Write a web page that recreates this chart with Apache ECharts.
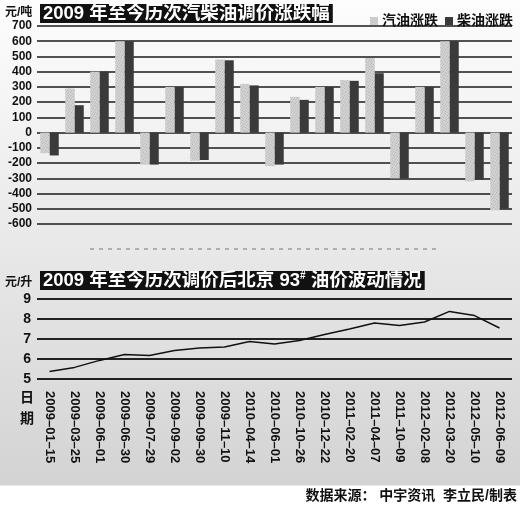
<!DOCTYPE html>
<html lang="zh">
<head>
<meta charset="UTF-8">
<title>汽柴油调价</title>
<style>
    body { margin: 0; background: #fff; }
    #main {
        width: 520px;
        height: 506px;
        background: linear-gradient(to bottom, #fdfdfd 0px, #e9e9e9 240px, #d3d3d3 485px, #fff 486px, #fff 506px);
    }
</style>
</head>
<body>
<div id="main"></div>
<script src="https://cdn.jsdelivr.net/npm/echarts@6/dist/echarts.min.js"></script>
<script>
    var dates = ['2009-01-15', '2009-03-25', '2009-06-01', '2009-06-30', '2009-07-29', '2009-09-02',
        '2009-09-30', '2009-11-10', '2010-04-14', '2010-06-01', '2010-10-26', '2010-12-22',
        '2011-02-20', '2011-04-07', '2011-10-09', '2012-02-08', '2012-03-20', '2012-05-10', '2012-06-09'];
    // 元/吨
    var gasChange = [-135, 290, 400, 600, -210, 300, -185, 480, 320, -220, 235, 300, 345, 490, -300, 300, 600, -320, -510];
    var dieselChange = [-150, 180, 400, 600, -210, 300, -180, 475, 310, -210, 215, 300, 340, 390, -300, 300, 600, -310, -500];
    // 北京93#, 元/升
    var price93 = [5.38, 5.58, 5.93, 6.22, 6.17, 6.42, 6.55, 6.6, 6.88, 6.75, 6.92, 7.22, 7.5, 7.8, 7.68, 7.85, 8.38, 8.17, 7.55];

    var FONT = "'Liberation Sans', 'Noto Sans CJK SC', sans-serif";
    var myChart = echarts.init(document.getElementById('main'));

    var option = {
        animation: false,
        textStyle: { fontFamily: FONT },
        title: [{
            text: '2009 年至今历次汽柴油调价涨跌幅',
            left: 40,
            top: 4,
            padding: [0, 3],
            backgroundColor: '#111',
            textStyle: { color: '#fff', fontSize: 18.5, fontWeight: 'bold', lineHeight: 19, fontFamily: FONT }
        }, {
            text: '2009 年至今历次调价后北京 93{sup|#} 油价波动情况',
            left: 40,
            top: 271,
            padding: [0, 3],
            backgroundColor: '#111',
            textStyle: {
                color: '#fff', fontSize: 18.5, fontWeight: 'bold', lineHeight: 19, fontFamily: FONT,
                rich: {
                    sup: { color: '#fff', fontSize: 10, fontWeight: 'bold', verticalAlign: 'top', lineHeight: 19, fontFamily: FONT }
                }
            }
        }],
        legend: {
            data: ['汽油涨跌', '柴油涨跌'],
            right: 2,
            top: 9,
            icon: 'rect',
            itemWidth: 8,
            itemHeight: 8,
            itemGap: 7,
            textStyle: { fontSize: 14, fontWeight: 'bold', color: '#111', padding: [0, 0, 0, -1] }
        },
        grid: [
            { left: 37, right: 8, top: 26, height: 198 },
            { left: 37, right: 8, top: 299, height: 80 }
        ],
        xAxis: [{
            type: 'category',
            gridIndex: 0,
            data: dates,
            axisLine: { show: false },
            axisTick: { show: false },
            axisLabel: { show: false }
        }, {
            type: 'category',
            gridIndex: 1,
            data: dates,
            axisLine: { show: false },
            axisTick: { show: false },
            axisLabel: {
                interval: 0,
                rotate: -90,
                margin: 12,
                fontSize: 13,
                fontWeight: 'bold',
                color: '#111',
                formatter: function (v) { return v.replace(/-/g, '–'); }
            }
        }],
        yAxis: [{
            type: 'value',
            gridIndex: 0,
            min: -600,
            max: 700,
            interval: 100,
            axisLabel: { margin: 5, fontSize: 12, fontWeight: 'bold', color: '#111' },
            splitLine: { lineStyle: { color: '#1a1a1a', width: 1.5 } }
        }, {
            type: 'value',
            gridIndex: 1,
            min: 5,
            max: 9,
            interval: 1,
            axisLabel: { margin: 6, fontSize: 14, fontWeight: 'bold', color: '#111' },
            splitLine: { lineStyle: { color: '#222', width: 2 } }
        }],
        series: [{
            name: '汽油涨跌',
            type: 'bar',
            xAxisIndex: 0,
            yAxisIndex: 0,
            data: gasChange,
            barWidth: 9.5,
            barGap: '0%',
            itemStyle: {
                color: '#d6d6d6',
                decal: {
                    symbol: 'rect',
                    symbolSize: 1,
                    color: 'rgba(140,140,140,0.55)',
                    dashArrayX: [1, 1],
                    dashArrayY: [1, 1],
                    rotation: 0.6
                }
            }
        }, {
            name: '柴油涨跌',
            type: 'bar',
            xAxisIndex: 0,
            yAxisIndex: 0,
            data: dieselChange,
            barWidth: 9,
            itemStyle: { color: '#3a3a3a' }
        }, {
            name: '93#',
            type: 'line',
            xAxisIndex: 1,
            yAxisIndex: 1,
            data: price93,
            symbol: 'none',
            lineStyle: { color: '#111', width: 1.5 }
        }],
        graphic: [{
            type: 'text',
            left: 5,
            top: 7,
            style: { text: '元/吨', font: 'bold 12px ' + FONT, fill: '#111' }
        }, {
            type: 'text',
            left: 5,
            top: 277,
            style: { text: '元/升', font: 'bold 12px ' + FONT, fill: '#111' }
        }, {
            type: 'text',
            left: 20,
            top: 388,
            style: { text: '日\n期', font: 'bold 14px ' + FONT, fill: '#111', lineHeight: 21 }
        }, {
            type: 'line',
            shape: { x1: 90, y1: 249, x2: 438, y2: 249 },
            style: { stroke: '#777', lineWidth: 1, lineDash: [4, 5] }
        }, {
            type: 'text',
            right: 3,
            top: 489,
            style: { text: '数据来源： 中宇资讯  李立民/制表', font: 'bold 14px ' + FONT, fill: '#111' }
        }]
    };
    myChart.setOption(option);
</script>
</body>
</html>
